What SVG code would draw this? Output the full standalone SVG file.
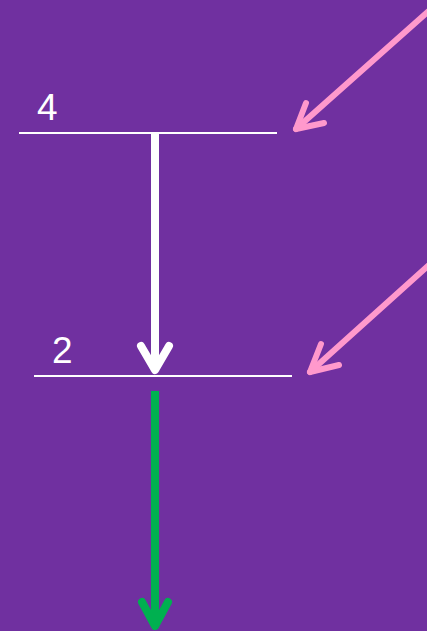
<svg xmlns="http://www.w3.org/2000/svg" width="427" height="631" viewBox="0 0 427 631">
<style>
.lvl{stroke:#FFFFFF;stroke-width:2;fill:none}
.lbl{font-family:"Liberation Sans",Arial,sans-serif;font-size:37px;fill:#FFFFFF}
.arr{fill:none;stroke-linecap:round;stroke-linejoin:round}
</style>
<rect width="427" height="631" fill="#7030A0"/>
<g id="level4">
<line class="lvl" x1="19" y1="133" x2="277" y2="133"/>
<text class="lbl" x="37" y="120">4</text>
</g>
<g id="level2">
<line class="lvl" x1="34" y1="376" x2="292" y2="376"/>
<text class="lbl" x="52" y="363">2</text>
</g>
<g id="connectors">
<g class="arr" stroke="#FFFFFF" stroke-width="8">
<line x1="155" y1="134" x2="155" y2="368" stroke-linecap="butt"/>
<polyline points="141,346 155,370 169,346"/>
</g>
<g class="arr" stroke="#00B050" stroke-width="8">
<line x1="155" y1="391" x2="155" y2="624" stroke-linecap="butt"/>
<polyline points="142,602 155,626 168,602"/>
</g>
<g class="arr" stroke="#FF99CC" stroke-width="6">
<line x1="440" y1="1" x2="296" y2="129"/>
<polyline points="306,103 296,129 324,123"/>
</g>
<g class="arr" stroke="#FF99CC" stroke-width="6">
<line x1="440" y1="255" x2="310" y2="372"/>
<polyline points="321,344 310,372 339,365"/>
</g>
</g>
</svg>
